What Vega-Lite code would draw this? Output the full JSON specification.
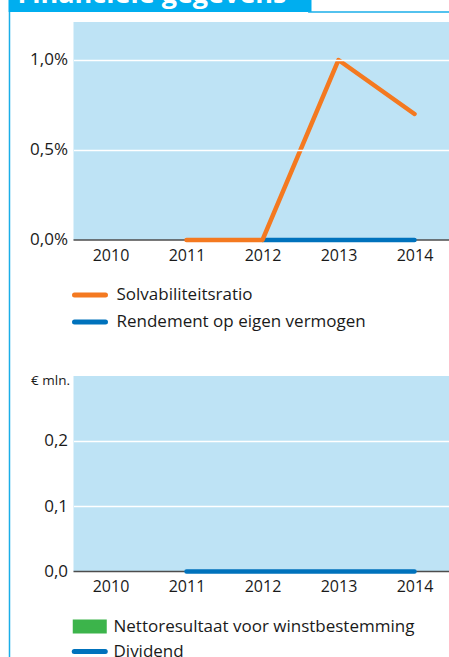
{
  "$schema": "https://vega.github.io/schema/vega-lite/v6.json",
  "background": "white",
  "padding": {"left": 7.5, "top": 0, "right": 0, "bottom": 0},
  "spacing": 0,
  "bounds": "flush",
  "config": {
    "view": {"stroke": null},
    "font": "Open Sans",
    "axis": {"labelFont": "Open Sans", "labelColor": "#1a1a1a", "labelFontSize": 16, "domain": false, "ticks": false, "tickSize": 0, "title": null},
    "legend": {"labelFont": "Open Sans", "labelColor": "#1a1a1a", "labelFontSize": 17, "labelLimit": 500, "title": null}
  },
  "resolve": {"scale": {"x": "independent", "y": "independent", "color": "independent"}, "legend": {"color": "independent"}},
  "vconcat": [
    {
      "width": 441,
      "height": 358,
      "data": {"values": [
        {"year": 2012, "series": "Rendement op eigen vermogen", "value": 0},
        {"year": 2013, "series": "Rendement op eigen vermogen", "value": 0},
        {"year": 2014, "series": "Rendement op eigen vermogen", "value": 0},
        {"year": 2011, "series": "Solvabiliteitsratio", "value": 0},
        {"year": 2012, "series": "Solvabiliteitsratio", "value": 0},
        {"year": 2013, "series": "Solvabiliteitsratio", "value": 1.0},
        {"year": 2014, "series": "Solvabiliteitsratio", "value": 0.7}
      ]},
      "layer": [
        {
          "data": {"values": [{"part": "background"}]},
          "mark": {"type": "rect", "color": "#bee3f5"},
          "encoding": {
            "x": {"datum": 2009.5132, "type": "quantitative",
              "scale": {"domain": [2009.5132, 2014.4605], "range": [65, 441], "nice": false, "zero": false, "padding": 0},
              "axis": {"orient": "bottom", "offset": -118, "values": [2010, 2011, 2012, 2013, 2014], "format": "d", "labelPadding": 7, "grid": false, "title": null}},
            "x2": {"datum": 2014.4605},
            "y": {"datum": 1.2111, "type": "quantitative",
              "scale": {"domain": [-0.65556, 1.33333], "nice": false, "zero": false, "padding": 0},
              "axis": {"orient": "left", "offset": -65, "values": [0, 0.5, 1.0], "labelExpr": "replace(format(datum.value, '.1f'), '.', ',') + '%'", "labelFontSize": 17, "labelPadding": 6, "grid": true, "gridColor": {"condition": {"test": "datum.value === 0", "value": "transparent"}, "value": "white"}, "gridWidth": 1.3, "zindex": 1, "title": null}},
            "y2": {"datum": 0}
          }
        },
        {
          "data": {"values": [{"part": "header"}]},
          "mark": {"type": "rect", "color": "#00aeef"},
          "encoding": {
            "x": {"datum": 2008.6579, "type": "quantitative"},
            "x2": {"datum": 2012.6447},
            "y": {"datum": 1.33333, "type": "quantitative"},
            "y2": {"datum": 1.2667}
          }
        },
        {
          "data": {"values": [{"label": "Financiële gegevens"}]},
          "mark": {"type": "text", "color": "white", "font": "Open Sans", "fontSize": 27, "fontWeight": "bold", "align": "left", "baseline": "alphabetic", "clip": true},
          "encoding": {
            "x": {"datum": 2008.7763, "type": "quantitative"},
            "y": {"datum": 1.3194, "type": "quantitative"},
            "text": {"field": "label"}
          }
        },
        {
          "data": {"values": [{"part": "header line"}]},
          "mark": {"type": "rule", "color": "#1aaee8", "strokeWidth": 1.5},
          "encoding": {
            "x": {"datum": 2012.6, "type": "quantitative"},
            "x2": {"datum": 2014.4605},
            "y": {"datum": 1.2667, "type": "quantitative"}
          }
        },
        {
          "data": {"values": [{"part": "border"}]},
          "mark": {"type": "rule", "color": "#1aaee8", "strokeWidth": 1.5},
          "encoding": {
            "x": {"datum": 2008.6711, "type": "quantitative"},
            "y": {"datum": 1.2667, "type": "quantitative"},
            "y2": {"datum": -0.65556}
          }
        },
        {
          "data": {"values": [{"part": "zero"}]},
          "mark": {"type": "rule", "color": "#4d4d4d", "strokeWidth": 1.5},
          "encoding": {
            "x": {"datum": 2009.5132, "type": "quantitative"},
            "x2": {"datum": 2014.4605},
            "y": {"datum": 0, "type": "quantitative"}
          }
        },
        {
          "mark": {"type": "line", "strokeWidth": 4.5, "strokeCap": "round", "strokeJoin": "round"},
          "encoding": {
            "x": {"field": "year", "type": "quantitative"},
            "y": {"field": "value", "type": "quantitative"},
            "color": {"field": "series", "type": "nominal",
              "scale": {"domain": ["Solvabiliteitsratio", "Rendement op eigen vermogen"], "range": ["#f47920", "#0072bc"]},
              "legend": {"orient": "none", "legendX": 65, "legendY": 278.5, "symbolType": "M-1.107,0H1.107", "symbolSize": 784, "symbolStrokeWidth": 5, "labelOffset": 10, "rowPadding": 0, "labelBaseline": "middle",
                "encode": {"symbols": {"update": {"strokeCap": {"value": "round"}, "strokeWidth": {"value": 5}}}}}},
            "order": {"field": "year"}
          }
        }
      ]
    },
    {
      "width": 441,
      "height": 299,
      "data": {"values": [
        {"year": 2011, "series": "Nettoresultaat voor winstbestemming", "value": 0},
        {"year": 2012, "series": "Nettoresultaat voor winstbestemming", "value": 0},
        {"year": 2013, "series": "Nettoresultaat voor winstbestemming", "value": 0},
        {"year": 2014, "series": "Nettoresultaat voor winstbestemming", "value": 0},
        {"year": 2011, "series": "Dividend", "value": 0},
        {"year": 2012, "series": "Dividend", "value": 0},
        {"year": 2013, "series": "Dividend", "value": 0},
        {"year": 2014, "series": "Dividend", "value": 0}
      ]},
      "layer": [
        {
          "data": {"values": [{"part": "background"}]},
          "mark": {"type": "rect", "color": "#bee3f5"},
          "encoding": {
            "x": {"datum": 2009.5132, "type": "quantitative",
              "scale": {"domain": [2009.5132, 2014.4605], "range": [65, 441], "nice": false, "zero": false, "padding": 0},
              "axis": {"orient": "bottom", "offset": -85.5, "values": [2010, 2011, 2012, 2013, 2014], "format": "d", "labelPadding": 7, "grid": false, "title": null}},
            "x2": {"datum": 2014.4605},
            "y": {"datum": 0.2996, "type": "quantitative",
              "scale": {"domain": [-0.13103, 0.32720], "nice": false, "zero": false, "padding": 0},
              "axis": {"orient": "left", "offset": -65, "values": [0, 0.1, 0.2], "labelExpr": "replace(format(datum.value, '.1f'), '.', ',')", "labelFontSize": 17, "labelPadding": 6, "grid": true, "gridColor": {"condition": {"test": "datum.value === 0", "value": "transparent"}, "value": "white"}, "gridWidth": 1.3, "zindex": 1,
                "title": "€ mln.", "titleAngle": 0, "titleAlign": "right", "titleBaseline": "middle", "titleX": -4, "titleY": 22, "titleFont": "Open Sans", "titleFontSize": 13.5, "titleFontWeight": "normal", "titleColor": "#1a1a1a"}},
            "y2": {"datum": 0}
          }
        },
        {
          "data": {"values": [{"part": "border"}]},
          "mark": {"type": "rule", "color": "#1aaee8", "strokeWidth": 1.5},
          "encoding": {
            "x": {"datum": 2008.6711, "type": "quantitative"},
            "y": {"datum": 0.32720, "type": "quantitative"},
            "y2": {"datum": -0.13103}
          }
        },
        {
          "data": {"values": [{"part": "zero"}]},
          "mark": {"type": "rule", "color": "#4d4d4d", "strokeWidth": 1.5},
          "encoding": {
            "x": {"datum": 2009.5132, "type": "quantitative"},
            "x2": {"datum": 2014.4605},
            "y": {"datum": 0, "type": "quantitative"}
          }
        },
        {
          "transform": [{"filter": "datum.series === 'Nettoresultaat voor winstbestemming'"}],
          "mark": {"type": "bar", "size": 30},
          "encoding": {
            "x": {"field": "year", "type": "quantitative"},
            "y": {"field": "value", "type": "quantitative"},
            "color": {"field": "series", "type": "nominal",
              "scale": {"domain": ["Nettoresultaat voor winstbestemming", "Dividend"], "range": ["#3cb44b", "#0072bc"]},
              "legend": {"orient": "none", "legendX": 70.75, "legendY": 258, "symbolSize": 256, "labelOffset": 13.25, "rowPadding": 0, "labelBaseline": "middle",
                "encode": {"symbols": {"update": {
                  "shape": {"signal": "datum.value === 'Dividend' ? 'M-1.9375,0H1.9375' : 'M-1.8125,-0.5625H1.8125V0.5625H-1.8125Z'"},
                  "fill": {"signal": "datum.value === 'Dividend' ? 'transparent' : '#3cb44b'"},
                  "stroke": {"signal": "datum.value === 'Dividend' ? '#0072bc' : 'transparent'"},
                  "strokeWidth": {"value": 5},
                  "strokeCap": {"value": "round"},
                  "opacity": {"value": 1},
                  "fillOpacity": {"value": 1},
                  "strokeOpacity": {"value": 1}}}}}}
          }
        },
        {
          "transform": [{"filter": "datum.series === 'Dividend'"}],
          "mark": {"type": "line", "strokeWidth": 4.5, "strokeCap": "round", "strokeJoin": "round"},
          "encoding": {
            "x": {"field": "year", "type": "quantitative"},
            "y": {"field": "value", "type": "quantitative"},
            "color": {"field": "series", "type": "nominal"},
            "order": {"field": "year"}
          }
        }
      ]
    }
  ]
}
